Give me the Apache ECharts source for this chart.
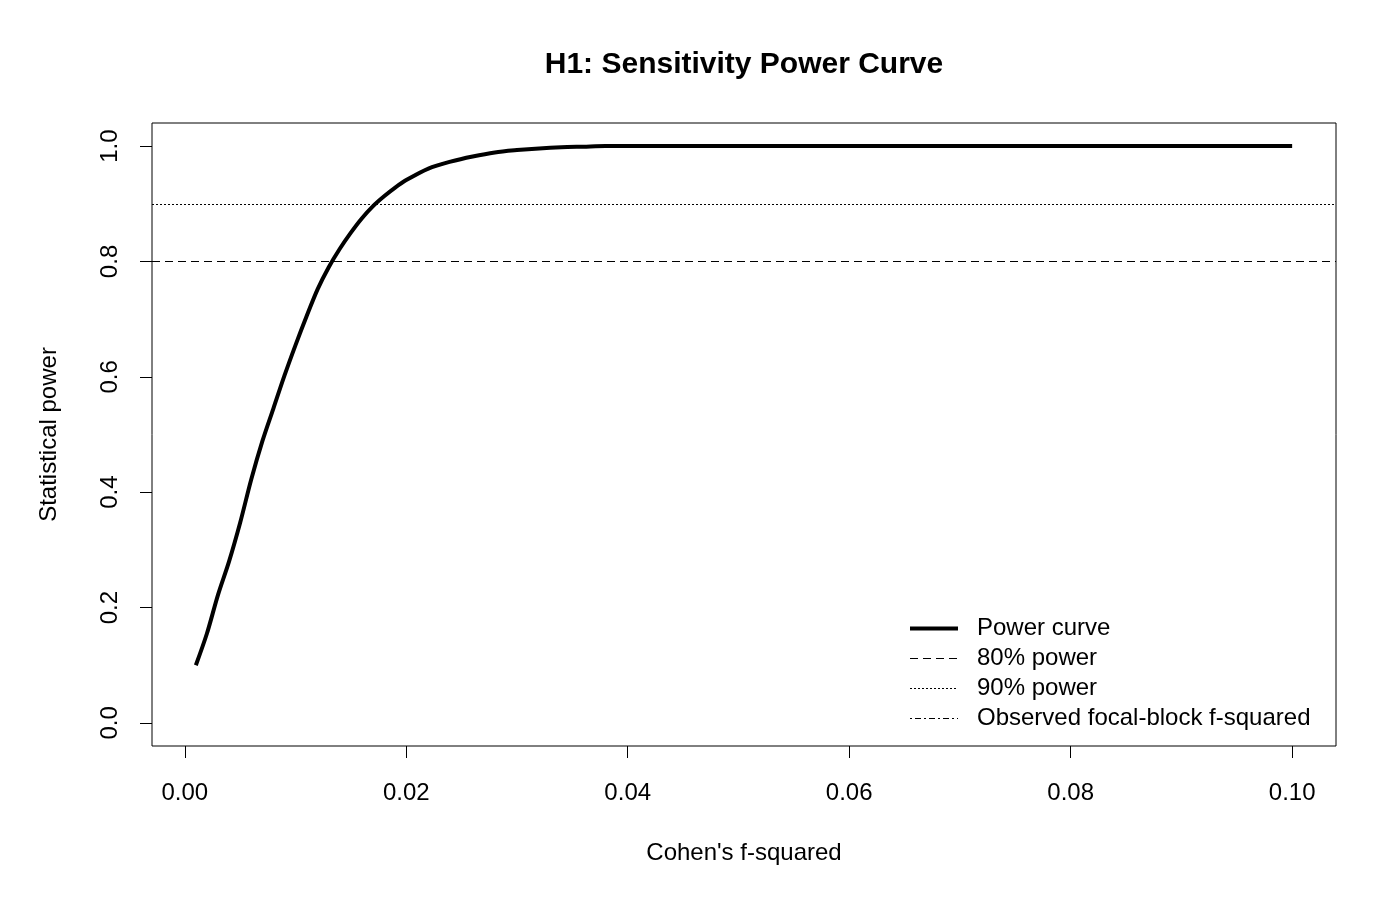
<!DOCTYPE html>
<html>
<head>
<meta charset="utf-8">
<script src="https://cdn.jsdelivr.net/npm/echarts@6/dist/echarts.min.js"></script>
<style>
  html, body { margin: 0; padding: 0; background: #fff; }
  #chart { width: 1400px; height: 900px; }
</style>
</head>
<body>
<div id="chart"></div>
<script>
// effect sizes (Cohen's f-squared) and power
const fSquared = [0.001, 0.002, 0.003, 0.004, 0.005, 0.006, 0.007, 0.008, 0.009, 0.010,
  0.011, 0.012, 0.013, 0.014, 0.015, 0.016, 0.017, 0.018, 0.019, 0.020,
  0.022, 0.024, 0.026, 0.028, 0.030, 0.032, 0.034, 0.036, 0.038, 0.040,
  0.050, 0.060, 0.070, 0.080, 0.090, 0.100];
const power = [0.100, 0.155, 0.222, 0.280, 0.347, 0.422, 0.488, 0.545, 0.602, 0.655,
  0.705, 0.752, 0.790, 0.822, 0.850, 0.875, 0.896, 0.913, 0.928, 0.941,
  0.961, 0.973, 0.982, 0.989, 0.993, 0.996, 0.998, 0.999, 1.000, 1.000,
  1.000, 1.000, 1.000, 1.000, 1.000, 1.000];
const xTicks = [0, 0.02, 0.04, 0.06, 0.08, 0.10];
const yTicks = [0, 0.2, 0.4, 0.6, 0.8, 1.0];
const powerLevels = [0.8, 0.9];

const font = "Liberation Sans, Arial, sans-serif";
const dash80 = [8, 5];
const dot90 = [2, 2];
const dotDash = [2, 3, 6, 3];
const chart = echarts.init(document.getElementById("chart"));

chart.setOption({
  animation: false,
  backgroundColor: "#fff",
  title: {
    text: "H1: Sensitivity Power Curve",
    left: 739,
    textAlign: "center",
    top: 45,
    textStyle: { fontFamily: font, fontSize: 30, fontWeight: "bold", color: "#000" },
  },
  grid: {
    left: 152, right: 64, top: 123, bottom: 154,
    show: true, borderColor: "#000", borderWidth: 1,
  },
  xAxis: {
    type: "value",
    min: -0.00296,
    max: 0.10396,
    name: "Cohen's f-squared",
    nameLocation: "middle",
    nameGap: 95,
    nameTextStyle: { fontFamily: font, fontSize: 24, color: "#000" },
    splitLine: { show: false },
    axisLine: { show: false, onZero: false },
    axisTick: { show: true, customValues: xTicks, length: 12, lineStyle: { color: "#000" } },
    axisLabel: {
      customValues: xTicks,
      margin: 35,
      fontFamily: font, fontSize: 24, color: "#000",
      formatter: (v) => v.toFixed(2),
    },
  },
  yAxis: {
    type: "value",
    min: -0.04,
    max: 1.04,
    name: "Statistical power",
    nameLocation: "middle",
    nameGap: 91,
    nameTextStyle: { fontFamily: font, fontSize: 24, color: "#000" },
    splitLine: { show: false },
    axisLine: { show: false, onZero: false },
    axisTick: { show: true, customValues: yTicks, length: 12, lineStyle: { color: "#000" } },
    axisLabel: {
      customValues: yTicks,
      rotate: 90,
      margin: 30,
      fontFamily: font, fontSize: 24, color: "#000",
      formatter: (v) => v.toFixed(1),
    },
  },
  legend: {
    orient: "vertical",
    left: 908,
    top: 616.5,
    padding: 0,
    itemWidth: 48,
    itemHeight: 24,
    itemGap: 6,
    itemStyle: { opacity: 0 },
    textStyle: { fontFamily: font, fontSize: 24, color: "#000", padding: [0, 0, 0, 14] },
    data: [
      { name: "Power curve", lineStyle: { width: 4, color: "#000" } },
      { name: "80% power", lineStyle: { width: 1, color: "#000", type: dash80 } },
      { name: "90% power", lineStyle: { width: 1, color: "#000", type: dot90 } },
      { name: "Observed focal-block f-squared", lineStyle: { width: 1, color: "#000", type: dotDash } },
    ],
  },
  series: [
    {
      name: "Power curve",
      type: "line",
      symbol: "none",
      smooth: 0.3,
      lineStyle: { color: "#000", width: 4 },
      itemStyle: { color: "#000" },
      data: fSquared.map((x, i) => [x, power[i]]),
    },
    {
      name: "80% power",
      type: "line",
      symbol: "none",
      lineStyle: { color: "#000", width: 1, type: dash80 },
      itemStyle: { color: "#000" },
      data: [],
      markLine: {
        silent: true,
        symbol: "none",
        label: { show: false },
        lineStyle: { color: "#000", width: 1, type: dash80 },
        data: [{ yAxis: powerLevels[0] }],
      },
    },
    {
      name: "90% power",
      type: "line",
      symbol: "none",
      lineStyle: { color: "#000", width: 1, type: dot90 },
      itemStyle: { color: "#000" },
      data: [],
      markLine: {
        silent: true,
        symbol: "none",
        label: { show: false },
        lineStyle: { color: "#000", width: 1, type: dot90 },
        data: [{ yAxis: powerLevels[1] }],
      },
    },
    {
      name: "Observed focal-block f-squared",
      type: "line",
      symbol: "none",
      lineStyle: { color: "#000", width: 1, type: dotDash },
      itemStyle: { color: "#000" },
      data: [],
    },
  ],
});
</script>
</body>
</html>
